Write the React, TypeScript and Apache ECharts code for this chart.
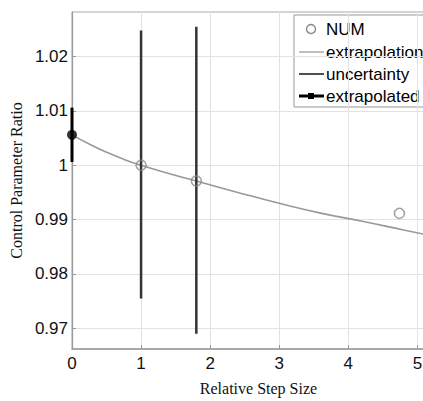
import React, { useEffect, useRef } from "react";
import * as echarts from "echarts";

const xTicks = [0, 1, 2, 3, 4, 5];
const yTicks = [0.97, 0.98, 0.99, 1.0, 1.01, 1.02];

const numX = [1, 1.8, 4.74];
const numY = [1.0, 0.9971, 0.99115];

const curveX = [0, 0.25, 0.5, 0.75, 1, 1.4, 1.8, 2.4, 3, 3.6, 4.2, 4.8, 5.4];
const curveY = [1.0056, 1.0039, 1.0024, 1.0011, 1.0, 0.9985, 0.9971, 0.995, 0.993, 0.9912, 0.9897, 0.9881, 0.9865];

const uncX = [1, 1.8];
const uncLow = [0.9755, 0.969];
const uncHigh = [1.0248, 1.0255];

const extX = [0];
const extY = [1.0056];
const extLow = [1.0006];
const extHigh = [1.0106];

const SANS = "'Liberation Sans', Arial, sans-serif";
const SERIF = "'Liberation Serif', 'Times New Roman', serif";

export default function App() {
  const ref = useRef<HTMLDivElement>(null);
  useEffect(() => {
    if (!ref.current) return;
    const chart = echarts.init(ref.current, null, { renderer: "svg" });
    const barRender = (color: string, width: number) => (params: any, api: any) => {
      const x = api.value(0);
      const lo = api.coord([x, api.value(1)]);
      const hi = api.coord([x, api.value(2)]);
      return {
        type: "line",
        shape: { x1: lo[0], y1: lo[1], x2: hi[0], y2: hi[1] },
        style: { stroke: color, lineWidth: width },
      };
    };
    const lx1 = 299, lx2 = 324, tx = 326;
    const legText = (text: string, y: number) => ({
      type: "text", x: tx, y,
      style: { text, font: `17px ${SANS}`, fill: "#000", verticalAlign: "middle" },
    });
    chart.setOption({
      animation: false,
      backgroundColor: "#fff",
      grid: {
        left: 70, top: 12, width: 375, height: 341,
        show: true, borderColor: "#aaa", borderWidth: 1, backgroundColor: "transparent",
      },
      xAxis: {
        type: "value", min: 0, max: 5.4,
        name: "Relative Step Size", nameLocation: "middle", nameGap: 31,
        nameTextStyle: { fontFamily: SERIF, fontSize: 16, color: "#111" },
        axisLine: { show: true, lineStyle: { color: "#999", width: 1.5 } },
        axisTick: { show: true, inside: true, length: 4, lineStyle: { color: "#999" }, customValues: xTicks },
        axisLabel: {
          fontFamily: SANS, fontSize: 17, color: "#111", margin: 6,
          customValues: xTicks,
        },
        splitLine: { show: true, lineStyle: { color: "#e2e2e2", width: 1 } },
      },
      yAxis: {
        type: "value", min: 0.9662, max: 1.0282,
        name: "Control Parameter Ratio", nameLocation: "middle", nameGap: 42,
        nameTextStyle: { fontFamily: SERIF, fontSize: 16, color: "#111" },
        axisLine: { show: true, lineStyle: { color: "#999", width: 1.2 } },
        axisTick: { show: true, inside: true, length: 4, lineStyle: { color: "#999" }, customValues: yTicks },
        axisLabel: {
          fontFamily: SANS, fontSize: 17, color: "#111", margin: 4,
          customValues: yTicks,
          formatter: (v: number) => String(+v.toFixed(2)),
        },
        splitLine: { show: true, lineStyle: { color: "#e2e2e2", width: 1 } },
      },
      series: [
        {
          name: "extrapolation", type: "line", smooth: true, symbol: "none",
          data: curveX.map((x, i) => [x, curveY[i]]),
          lineStyle: { color: "#999", width: 1.6 }, z: 2,
        },
        {
          name: "uncertainty", type: "custom", renderItem: barRender("#333", 2.5),
          encode: { x: 0, y: [1, 2] },
          data: uncX.map((x, i) => [x, uncLow[i], uncHigh[i]]), z: 3,
        },
        {
          name: "extrapolatedBar", type: "custom", renderItem: barRender("#000", 3),
          encode: { x: 0, y: [1, 2] },
          data: extX.map((x, i) => [x, extLow[i], extHigh[i]]), z: 4, clip: false,
        },
        {
          name: "extrapolated", type: "scatter", symbol: "circle", symbolSize: 10,
          data: extX.map((x, i) => [x, extY[i]]),
          itemStyle: { color: "#000" }, z: 5, clip: false,
        },
        {
          name: "NUM", type: "scatter", symbol: "circle", symbolSize: 10,
          data: numX.map((x, i) => [x, numY[i]]),
          itemStyle: { color: "transparent", borderColor: "#888", borderWidth: 1.5 }, z: 6,
        },
      ],
      graphic: [
        {
          type: "group", z: 100,
          children: [
            { type: "rect", shape: { x: 294, y: 15, width: 170, height: 92 }, style: { fill: "#fff", stroke: "#999", lineWidth: 1 } },
            { type: "circle", shape: { cx: 311, cy: 29, r: 4.5 }, style: { fill: "#fff", stroke: "#888", lineWidth: 1.4 } },
            legText("NUM", 29),
            { type: "line", shape: { x1: lx1, y1: 52, x2: lx2, y2: 52 }, style: { stroke: "#aaa", lineWidth: 1.5 } },
            legText("extrapolation", 52),
            { type: "line", shape: { x1: lx1, y1: 74, x2: lx2, y2: 74 }, style: { stroke: "#222", lineWidth: 1.6 } },
            legText("uncertainty", 74),
            { type: "line", shape: { x1: lx1, y1: 96, x2: lx2, y2: 96 }, style: { stroke: "#000", lineWidth: 3 } },
            { type: "rect", shape: { x: 308, y: 93, width: 6, height: 6 }, style: { fill: "#000" } },
            legText("extrapolated", 96),
          ],
        },
      ],
    });
    return () => chart.dispose();
  }, []);
  return (
    <div style={{ position: "fixed", left: 0, top: 0, width: 423, height: 401, overflow: "hidden", background: "#fff" }}>
      <div ref={ref} style={{ width: 470, height: 401 }} />
    </div>
  );
}
